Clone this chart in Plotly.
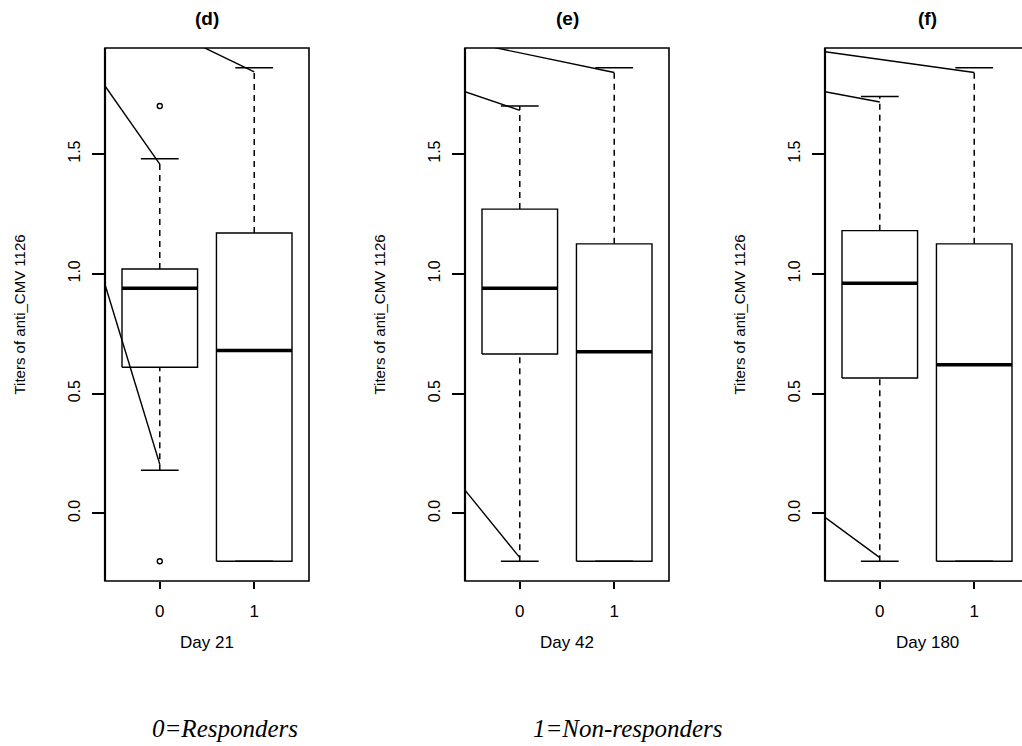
import plotly.graph_objects as go

# ---------------- data ----------------
categories = ["0", "1"]
x_pos = [0, 1]
day_labels = ["Day 21", "Day 42", "Day 180"]
panel_titles = ["(d)", "(e)", "(f)"]
y_ticks = [0.0, 0.5, 1.0, 1.5]
y_ticktext = ["0.0", "0.5", "1.0", "1.5"]

# Day 21
d21_q1 = [0.61, -0.20]
d21_med = [0.94, 0.68]
d21_q3 = [1.02, 1.17]
d21_lo = [0.18, -0.20]
d21_hi = [1.48, 1.86]
d21_out_x = [0, 0]
d21_out_y = [1.70, -0.20]

# Day 42
d42_q1 = [0.665, -0.20]
d42_med = [0.94, 0.675]
d42_q3 = [1.27, 1.125]
d42_lo = [-0.20, -0.20]
d42_hi = [1.70, 1.86]
d42_out_x = []
d42_out_y = []

# Day 180
d180_q1 = [0.565, -0.20]
d180_med = [0.96, 0.62]
d180_q3 = [1.18, 1.125]
d180_lo = [-0.20, -0.20]
d180_hi = [1.74, 1.86]
d180_out_x = []
d180_out_y = []

# overlaid connector lines (x0, y0, x1, y1)
d21_links = [(-0.58, 1.784, 0, 1.458), (0.468, 1.944, 1, 1.843), (-0.58, 0.955, 0, 0.205)]
d42_links = [(-0.266, 1.944, 1, 1.84), (-0.58, 1.76, 0, 1.682), (-0.58, 0.097, 0, -0.185)]
d180_links = [(-0.58, 1.927, 1, 1.84), (-0.58, 1.76, 0, 1.717), (-0.58, -0.017, 0, -0.185)]

footer_left = "0=Responders"
footer_right = "1=Non-responders"

# ---------------- layout geometry ----------------
W, H = 1022, 746
px_left = [105, 465, 825]
px_w = 204
px_top, px_bot = 48, 581
x_range_full = [-0.58, 1.58]
y_range = [-0.2824, 1.9424]
units_per_px = (x_range_full[1] - x_range_full[0]) / px_w

panels = [
    (d21_q1, d21_med, d21_q3, d21_lo, d21_hi, d21_out_x, d21_out_y, d21_links),
    (d42_q1, d42_med, d42_q3, d42_lo, d42_hi, d42_out_x, d42_out_y, d42_links),
    (d180_q1, d180_med, d180_q3, d180_lo, d180_hi, d180_out_x, d180_out_y, d180_links),
]

fig = go.Figure()
layout = dict(
    width=W, height=H, margin=dict(l=0, r=0, t=0, b=0),
    paper_bgcolor="white", plot_bgcolor="white", showlegend=False,
)
shapes = []
annotations = []

hw = 0.4   # half box width
cw = 0.2   # half cap width

for k, (q1, med, q3, lo, hi, ox, oy, links) in enumerate(panels):
    sfx = "" if k == 0 else str(k + 1)
    xa, ya = "x" + sfx, "y" + sfx
    left = px_left[k]
    right = min(left + px_w, W)
    xr = [x_range_full[0], x_range_full[0] + (right - left) * units_per_px]

    bx, by, mx, my, wx, wy, cx, cy = [], [], [], [], [], [], [], []
    for i, p in enumerate(x_pos):
        bx += [p - hw, p + hw, p + hw, p - hw, p - hw, None]
        by += [q1[i], q1[i], q3[i], q3[i], q1[i], None]
        mx += [p - hw, p + hw, None]
        my += [med[i], med[i], None]
        wx += [p, p, None]
        wy += [q3[i], hi[i], None]
        if lo[i] < q1[i]:
            wx += [p, p, None]
            wy += [lo[i], q1[i], None]
        cx += [p - cw, p + cw, None, p - cw, p + cw, None]
        cy += [hi[i], hi[i], None, lo[i], lo[i], None]

    lx, ly = [], []
    for (x0, y0, x1, y1) in links:
        lx += [x0, x1, None]
        ly += [y0, y1, None]

    common = dict(xaxis=xa, yaxis=ya, hoverinfo="skip")
    fig.add_trace(go.Scatter(x=wx, y=wy, mode="lines",
                             line=dict(color="black", width=1.5, dash="6px,5px"), **common))
    fig.add_trace(go.Scatter(x=cx, y=cy, mode="lines",
                             line=dict(color="black", width=1.4), **common))
    fig.add_trace(go.Scatter(x=bx, y=by, mode="lines",
                             line=dict(color="black", width=1.4), **common))
    fig.add_trace(go.Scatter(x=mx, y=my, mode="lines",
                             line=dict(color="black", width=3.5), **common))
    if ox:
        fig.add_trace(go.Scatter(x=ox, y=oy, mode="markers",
                                 marker=dict(symbol="circle-open", size=5, color="black",
                                             line=dict(width=1.4)), **common))
    fig.add_trace(go.Scatter(x=lx, y=ly, mode="lines",
                             line=dict(color="black", width=1.4), **common))

    layout["xaxis" + sfx] = dict(
        domain=[left / W, right / W], range=xr, anchor=ya,
        tickmode="array", tickvals=x_pos, ticktext=categories,
        ticks="outside", ticklen=7, tickwidth=1.5, tickcolor="black",
        showgrid=False, zeroline=False, showline=False,
        tickfont=dict(family="Liberation Sans, Arial, sans-serif", size=17, color="black"),
        ticklabelstandoff=8, fixedrange=True,
    )
    layout["yaxis" + sfx] = dict(
        domain=[(H - px_bot) / H, (H - px_top) / H], range=y_range, anchor=xa,
        tickmode="array", tickvals=y_ticks, ticktext=y_ticktext,
        ticks="outside", ticklen=12, tickwidth=1.5, tickcolor="black",
        showgrid=False, zeroline=False, showline=False, tickangle=-90,
        tickfont=dict(family="Liberation Sans Narrow, Arial Narrow, Liberation Sans, sans-serif", size=16, color="black"),
        ticklabelstandoff=6, fixedrange=True,
    )

    # frame
    shapes.append(dict(type="rect", xref=xa + " domain", yref=ya + " domain",
                       x0=0, x1=1 if k < 2 else 1.2, y0=0, y1=1,
                       line=dict(color="black", width=1.6), layer="above"))
    shapes.append(dict(type="line", xref=xa + " domain", yref=ya + " domain",
                       x0=0, x1=0, y0=0, y1=1,
                       line=dict(color="black", width=2.2), layer="above"))

    cxp = (left + px_w / 2) / W
    annotations.append(dict(text="<b>" + panel_titles[k] + "</b>", x=cxp, y=1 - 18 / H,
                            xref="paper", yref="paper", showarrow=False,
                            xanchor="center", yanchor="middle",
                            font=dict(family="Liberation Sans, Arial, sans-serif", size=19, color="black")))
    annotations.append(dict(text=day_labels[k], x=cxp, y=1 - 642 / H,
                            xref="paper", yref="paper", showarrow=False,
                            xanchor="center", yanchor="middle",
                            font=dict(family="Liberation Sans, Arial, sans-serif", size=17, color="black")))
    annotations.append(dict(text="Titers of anti_CMV 1126", x=(left - 86) / W,
                            y=1 - ((px_top + px_bot) / 2) / H,
                            xref="paper", yref="paper", showarrow=False, textangle=-90,
                            xanchor="center", yanchor="middle",
                            font=dict(family="Liberation Sans Narrow, Arial Narrow, Liberation Sans, sans-serif", size=15, color="black")))

annotations.append(dict(text="<i>" + footer_left + "</i>", x=225 / W, y=1 - 728 / H,
                        xref="paper", yref="paper", showarrow=False,
                        xanchor="center", yanchor="middle",
                        font=dict(family="Liberation Serif, Times New Roman, serif", size=25, color="black")))
annotations.append(dict(text="<i>" + footer_right + "</i>", x=628 / W, y=1 - 728 / H,
                        xref="paper", yref="paper", showarrow=False,
                        xanchor="center", yanchor="middle",
                        font=dict(family="Liberation Serif, Times New Roman, serif", size=25, color="black")))

layout["shapes"] = shapes
layout["annotations"] = annotations
fig.update_layout(**layout)
fig.write_html("out.html")
